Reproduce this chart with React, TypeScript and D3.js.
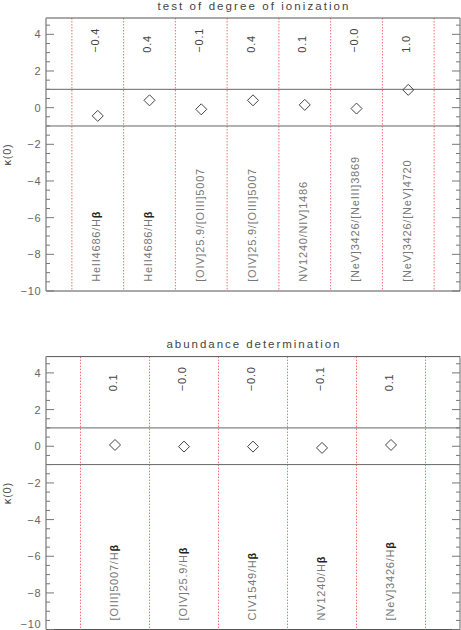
import React from "react";
import * as d3 from "d3";

const ionCategories = [
  "HeII4686/H|β",
  "HeII4686/H|β",
  "[OIV]25.9/[OIII]5007",
  "[OIV]25.9/[OIII]5007",
  "NV1240/NIV]1486",
  "[NeV]3426/[NeIII]3869",
  "[NeV]3426/[NeV]4720",
];
const ionValues = [-0.45, 0.4, -0.09, 0.4, 0.15, -0.05, 0.97];
const ionLabels = ["−0.4", "0.4", "−0.1", "0.4", "0.1", "−0.0", "1.0"];

const abCategories = [
  "[OIII]5007/H|β",
  "[OIV]25.9/H|β",
  "CIV1549/H|β",
  "NV1240/H|β",
  "[NeV]3426/H|β",
];
const abValues = [0.07, -0.02, -0.02, -0.09, 0.07];
const abLabels = ["0.1", "−0.0", "−0.0", "−0.1", "0.1"];

const yTicks = [4, 2, 0, -2, -4, -6, -8, -10];
const yTickLabels = ["4", "2", "0", "−2", "−4", "−6", "−8", "−10"];
const bandLevels = [1, -1];

const W = 461;
const H = 630;
const FONT = "'Liberation Sans', Arial, sans-serif";

type PanelProps = {
  title: string;
  categories: string[];
  values: number[];
  labels: string[];
  top: number;
  bottom: number;
  titleY: number;
  titleLen: number;
};

function Panel({ title, categories, values, labels, top, bottom, titleY, titleLen }: PanelProps) {
  const n = categories.length;
  const x = d3.scaleLinear().domain([0, n + 1]).range([46, 460]);
  const y = d3.scaleLinear().domain([-10, 4.89]).range([bottom, top]);
  const minor = d3.range(-10, 4.9, 0.5);
  const seps = d3.range(0, n + 1).map((i) => i + 0.5);
  const cx = (x.range()[0] + x.range()[1]) / 2;
  const cy = (top + bottom) / 2;
  return (
    <g>
      <text
        x={cx}
        y={titleY}
        textAnchor="middle"
        fontFamily={FONT}
        fontSize={11.5}
        fill="#444"
        textLength={titleLen}
        lengthAdjust="spacing"
      >
        {title}
      </text>
      {seps.map((s, i) => (
        <line
          key={"s" + i}
          x1={x(s)}
          x2={x(s)}
          y1={top}
          y2={bottom}
          stroke="#f55"
          strokeWidth={1}
          strokeDasharray="1.5,1.5"
          opacity={0.85}
        />
      ))}
      {bandLevels.map((b, i) => (
        <line key={"b" + i} x1={x(0)} x2={x(n + 1)} y1={y(b)} y2={y(b)} stroke="#666" strokeWidth={1} />
      ))}
      <line x1={x(0)} x2={x(n + 1)} y1={top} y2={top} stroke="#555" strokeWidth={1} />
      <line x1={x(0)} x2={x(n + 1)} y1={bottom} y2={bottom} stroke="#555" strokeWidth={1.2} />
      <line x1={x(n + 1)} x2={x(n + 1)} y1={top} y2={bottom} stroke="#666" strokeWidth={1} />
      <line x1={x(0)} x2={x(0)} y1={top} y2={bottom} stroke="#999" strokeWidth={1.6} />
      {minor.map((v, i) => {
        const major = yTicks.includes(v);
        const len = major ? 8 : 4;
        return (
          <g key={"t" + i}>
            <line x1={x(0)} x2={x(0) + len} y1={y(v)} y2={y(v)} stroke="#777" strokeWidth={1} />
            <line x1={x(n + 1)} x2={x(n + 1) - len} y1={y(v)} y2={y(v)} stroke="#777" strokeWidth={1} />
          </g>
        );
      })}
      {yTicks.map((v, i) => (
        <text
          key={"l" + i}
          x={41.5}
          y={Math.min(y(v) + 4, H - 2)}
          textAnchor="end"
          fontFamily={FONT}
          fontSize={11}
          letterSpacing={0.8}
          fill="#666"
        >
          {yTickLabels[i]}
        </text>
      ))}
      <text
        transform={`translate(11,${cy}) rotate(-90)`}
        textAnchor="middle"
        fontFamily={FONT}
        fontSize={11}
        fill="#555"
        letterSpacing={0.8}
      >
        <tspan fill="#333">κ</tspan>(0)
      </text>
      {values.map((v, i) => {
        const px = x(i + 1);
        const py = y(v);
        const r = 5.5;
        return (
          <path
            key={"p" + i}
            d={`M${px},${py - r}L${px + r},${py}L${px},${py + r}L${px - r},${py}Z`}
            fill="none"
            stroke="#444"
            strokeWidth={1}
          />
        );
      })}
      {labels.map((l, i) => (
        <text
          key={"v" + i}
          transform={`translate(${x(i + 1) + 1.5},${y(3)}) rotate(-90)`}
          textAnchor="start"
          fontFamily={FONT}
          fontSize={11}
          letterSpacing={0.8}
          fill="#444"
        >
          {l}
        </text>
      ))}
      {categories.map((c, i) => {
        const parts = c.split("|");
        return (
          <text
            key={"c" + i}
            transform={`translate(${x(i + 1) + 2.5},${y(-9.5)}) rotate(-90)`}
            textAnchor="start"
            fontFamily={FONT}
            fontSize={11}
            letterSpacing={0.8}
            fill="#777"
          >
            {parts[0]}
            {parts[1] ? (
              <tspan fontWeight="bold" fill="#222">
                {parts[1]}
              </tspan>
            ) : null}
          </text>
        );
      })}
    </g>
  );
}

export default function App() {
  return (
    <svg
      width={W}
      height={H}
      style={{ position: "absolute", left: 0, top: 0, background: "#fff" }}
    >
      <rect width={W} height={H} fill="#fff" />
      <Panel
        title="test of degree of ionization"
        categories={ionCategories}
        values={ionValues}
        labels={ionLabels}
        top={18}
        bottom={291}
        titleY={10}
        titleLen={191}
      />
      <Panel
        title="abundance determination"
        categories={abCategories}
        values={abValues}
        labels={abLabels}
        top={356.6}
        bottom={629.6}
        titleY={348}
        titleLen={173}
      />
    </svg>
  );
}
